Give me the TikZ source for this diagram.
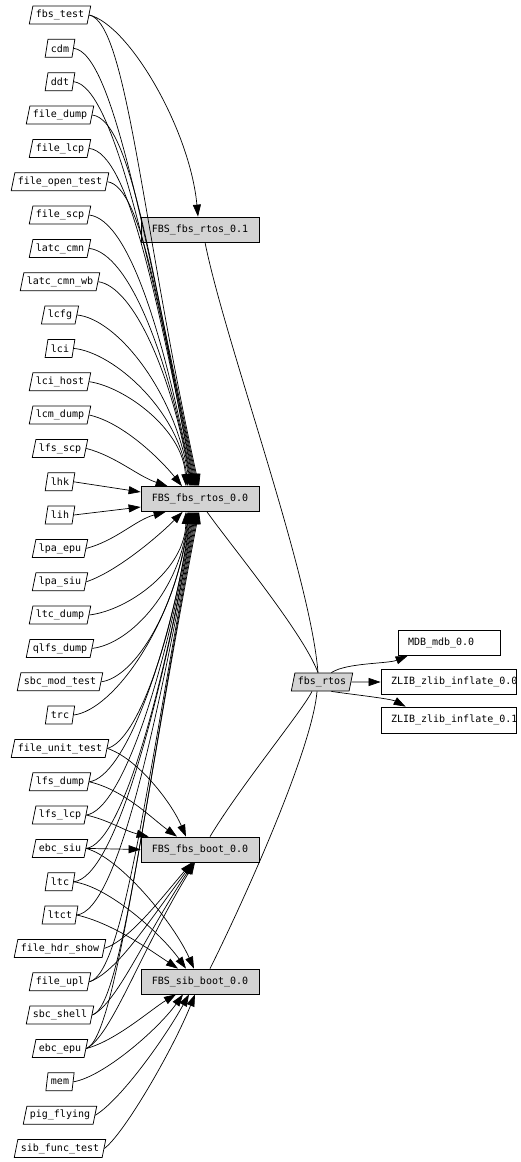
\documentclass[tikz,border=0pt]{standalone}
\usepackage{fontspec}
\setmonofont{DejaVu Sans Mono}
\usetikzlibrary{shapes.geometric,arrows.meta}
\definecolor{boxgray}{HTML}{D3D3D3}
\begin{document}
\begin{tikzpicture}[x=1pt,y=-1pt,
  font=\ttfamily\fontsize{10}{12}\selectfont,
  dep/.style={trapezium, trapezium left angle=70, trapezium right angle=110, draw, fill=white,
    line width=0.75pt, inner xsep=3pt, inner ysep=0pt, minimum height=18pt, trapezium stretches body},
  pkg/.style={rectangle, draw, line width=0.75pt, minimum height=25pt, minimum width=118pt, inner sep=0pt},
  link/.style={line width=0.7pt, -{Triangle[length=12pt,width=8pt]}},
  plain/.style={line width=0.7pt}
]
\useasboundingbox (0,0) rectangle (520,1162);
\fill[white] (0,0) rectangle (520,1162);
% left column
\node[dep] (fbstest) at (60,15) {fbs\_test};
\node[dep] (cdm) at (60,48.3) {cdm};
\node[dep] (ddt) at (60,81.7) {ddt};
\node[dep] (filedump) at (60,115) {file\_dump};
\node[dep] (filelcp) at (60,148.4) {file\_lcp};
\node[dep] (fileopentest) at (60,181.7) {file\_open\_test};
\node[dep] (filescp) at (60,215) {file\_scp};
\node[dep] (latccmn) at (60,248.4) {latc\_cmn};
\node[dep] (latccmnwb) at (60,281.7) {latc\_cmn\_wb};
\node[dep] (lcfg) at (60,315) {lcfg};
\node[dep] (lci) at (60,348.4) {lci};
\node[dep] (lcihost) at (60,381.7) {lci\_host};
\node[dep] (lcmdump) at (60,415) {lcm\_dump};
\node[dep] (lfsscp) at (60,448.4) {lfs\_scp};
\node[dep] (lhk) at (60,481.8) {lhk};
\node[dep] (lih) at (60,515) {lih};
\node[dep] (lpaepu) at (60,548.4) {lpa\_epu};
\node[dep] (lpasiu) at (60,581.8) {lpa\_siu};
\node[dep] (ltcdump) at (60,615) {ltc\_dump};
\node[dep] (qlfsdump) at (60,648.4) {qlfs\_dump};
\node[dep] (sbcmodtest) at (60,681.8) {sbc\_mod\_test};
\node[dep] (trc) at (60,715) {trc};
\node[dep] (fileunittest) at (60,748.4) {file\_unit\_test};
\node[dep] (lfsdump) at (60,781.8) {lfs\_dump};
\node[dep] (lfslcp) at (60,815) {lfs\_lcp};
\node[dep] (ebcsiu) at (60,848.4) {ebc\_siu};
\node[dep] (ltc) at (60,881.8) {ltc};
\node[dep] (ltct) at (60,915) {ltct};
\node[dep] (filehdrshow) at (60,948.4) {file\_hdr\_show};
\node[dep] (fileupl) at (60,981.8) {file\_upl};
\node[dep] (sbcshell) at (60,1015) {sbc\_shell};
\node[dep] (ebcepu) at (60,1048.5) {ebc\_epu};
\node[dep] (mem) at (60,1081.8) {mem};
\node[dep] (pigflying) at (60,1115.2) {pig\_flying};
\node[dep] (sibfunctest) at (60,1148.5) {sib\_func\_test};
% middle column
\node[pkg, fill=boxgray] (rt1) at (200,229.5) {FBS\_fbs\_rtos\_0.1};
\node[pkg, fill=boxgray] (r0) at (200,499) {FBS\_fbs\_rtos\_0.0};
\node[pkg, fill=boxgray] (fb) at (200,849.5) {FBS\_fbs\_boot\_0.0};
\node[pkg, fill=boxgray] (sb) at (200,981.5) {FBS\_sib\_boot\_0.0};
% right
\node[dep, fill=boxgray] (fr) at (322,682) {fbs\_rtos};
\node[pkg, minimum width=102pt, inner xsep=10pt] (mdb) at (449,643) {\makebox[82pt][l]{MDB\_mdb\_0.0}};
\node[pkg, minimum width=135pt, inner xsep=10pt] (z0) at (448.5,682) {\makebox[115pt][l]{ZLIB\_zlib\_inflate\_0.0}};
\node[pkg, minimum width=135pt, minimum height=26pt, inner xsep=10pt] (z1) at (448.5,720) {\makebox[115pt][l]{ZLIB\_zlib\_inflate\_0.1}};

% edges into FBS_fbs_rtos_0.1
\draw[link] (fbstest.east) .. controls +(40,10) and (190,130) .. ([xshift=-2pt]rt1.north);
% edges into FBS_fbs_rtos_0.0 from above
\draw[link] (fbstest.east) .. controls +(38,8) and (142,227) .. ([xshift=-1pt]r0.north);
\draw[link] (cdm.east) .. controls +(40,5) and (146,246) .. ([xshift=-2pt]r0.north);
\draw[link] (ddt.east) .. controls +(40,5) and (150,264) .. ([xshift=-3pt]r0.north);
\draw[link] (filedump.east) .. controls +(40,5) and (153,282) .. ([xshift=-4pt]r0.north);
\draw[link] (filelcp.east) .. controls +(40,5) and (157,301) .. ([xshift=-5pt]r0.north);
\draw[link] (fileopentest.east) .. controls +(35,5) and (161,319) .. ([xshift=-6pt]r0.north);
\draw[link] (filescp.east) .. controls +(40,5) and (164,337) .. ([xshift=-7pt]r0.north);
\draw[link] (latccmn.east) .. controls +(40,5) and (168,356) .. ([xshift=-8pt]r0.north);
\draw[link] (latccmnwb.east) .. controls +(35,5) and (172,374) .. ([xshift=-9pt]r0.north);
\draw[link] (lcfg.east) .. controls +(40,4) and (175,392) .. ([xshift=-10pt]r0.north);
\draw[link] (lci.east) .. controls +(40,4) and (179,411) .. ([xshift=-12pt]r0.north);
\draw[link] (lcihost.east) .. controls +(35,5) and (183,429) .. ([xshift=-14pt]r0.north);
\draw[link] (lcmdump.east) .. controls +(35,8) and +(-20,-25) .. ([xshift=-18pt]r0.north);
\draw[link] (lfsscp.east) .. controls +(30,8) and +(-30,-10) .. ([xshift=27pt]r0.north west);
\draw[link] (lhk.east) -- ([yshift=7pt]r0.west);
\draw[link] (lih.east) -- ([yshift=-8pt]r0.west);
\draw[link] (lpaepu.east) .. controls +(30,-8) and +(-30,8) .. ([xshift=25pt]r0.south west);
\draw[link] (lpasiu.east) .. controls +(30,-10) and +(-25,25) .. ([xshift=42pt]r0.south west);
% edges into FBS_fbs_rtos_0.0 from below
\draw[link] (ltcdump.east) .. controls +(40,-5) and (185,569) .. ([xshift=-14pt]r0.south);
\draw[link] (qlfsdump.east) .. controls +(40,-5) and (181,587) .. ([xshift=-12pt]r0.south);
\draw[link] (sbcmodtest.east) .. controls +(35,-5) and (178,605) .. ([xshift=-11pt]r0.south);
\draw[link] (trc.east) .. controls +(40,-5) and (175,624) .. ([xshift=-10pt]r0.south);
\draw[link] (fileunittest.east) .. controls +(30,-8) and (172,642) .. ([xshift=-9pt]r0.south);
\draw[link] (lfsdump.east) .. controls +(35,-5) and (168,660) .. ([xshift=-8pt]r0.south);
\draw[link] (lfslcp.east) .. controls +(35,-5) and (165,679) .. ([xshift=-7pt]r0.south);
\draw[link] (ebcsiu.east) .. controls +(35,-5) and (162,697) .. ([xshift=-6pt]r0.south);
\draw[link] (ltc.east) .. controls +(40,-5) and (158,716) .. ([xshift=-5pt]r0.south);
\draw[link] (ltct.east) .. controls +(40,-5) and (155,734) .. ([xshift=-4pt]r0.south);
\draw[link] (fileupl.east) .. controls +(35,-8) and (148,770) .. ([xshift=-3pt]r0.south);
\draw[link] (sbcshell.east) .. controls +(30,-8) and (145,789) .. ([xshift=-2pt]r0.south);
\draw[link] (ebcepu.east) .. controls +(30,-10) and (142,807) .. ([xshift=-1pt]r0.south);
% edges into FBS_fbs_boot_0.0
\draw[link] (fileunittest.east) .. controls +(30,10) and +(-15,-35) .. ([xshift=-14pt]fb.north);
\draw[link] (lfsdump.east) .. controls +(35,8) and +(-25,-18) .. ([xshift=-23pt]fb.north);
\draw[link] (lfslcp.east) .. controls +(25,6) and +(-25,-6) .. ([xshift=8pt]fb.north west);
\draw[link] (ebcsiu.east) -- (fb.west);
\draw[link] (filehdrshow.east) .. controls +(25,-8) and +(-30,35) .. ([xshift=-8pt]fb.south);
\draw[link] (fileupl.east) .. controls +(28,-10) and +(-45,60) .. ([xshift=-7pt]fb.south);
\draw[link] (sbcshell.east) .. controls +(25,-12) and +(-50,75) .. ([xshift=-6pt]fb.south);
\draw[link] (ebcepu.east) .. controls +(25,-12) and +(-55,90) .. ([xshift=-5pt]fb.south);
% edges into FBS_sib_boot_0.0
\draw[link] (ebcsiu.east) .. controls +(35,10) and +(-20,-45) .. ([xshift=-6pt]sb.north);
\draw[link] (ltc.east) .. controls +(35,5) and +(-25,-35) .. ([xshift=-14pt]sb.north);
\draw[link] (ltct.east) .. controls +(35,8) and +(-30,-20) .. ([xshift=-22pt]sb.north);
\draw[link] (ebcepu.east) .. controls +(30,-8) and +(-25,15) .. ([xshift=-24pt]sb.south);
\draw[link] (mem.east) .. controls +(30,-5) and +(-25,35) .. ([xshift=-17pt]sb.south);
\draw[link] (pigflying.east) .. controls +(25,-15) and +(-25,45) .. ([xshift=-11pt]sb.south);
\draw[link] (sibfunctest.east) .. controls +(20,-15) and +(-22,55) .. ([xshift=-5pt]sb.south);
% links to fbs_rtos
\draw[plain] ([xshift=5pt]rt1.south) .. controls +(20,100) and +(-8,-100) .. ([xshift=-4pt]fr.north);
\draw[plain] ([xshift=7pt]r0.south) .. controls +(25,35) and +(-15,-40) .. ([xshift=-4pt]fr.north);
\draw[plain] ([xshift=10pt]fb.north) .. controls +(30,-50) and +(-10,20) .. ([xshift=-10pt]fr.south);
\draw[plain] ([xshift=10pt]sb.north) .. controls +(30,-60) and +(-5,60) .. ([xshift=-5pt]fr.south);
% fbs_rtos outgoing
\draw[link] (fr.north east) .. controls +(15,-10) and +(-20,8) .. ([xshift=10pt]mdb.south west);
\draw[link] (fr.east) -- (z0.west);
\draw[link] (fr.south east) .. controls +(20,3) and +(-15,-8) .. ([xshift=25pt]z1.north west);
\end{tikzpicture}
\end{document}
